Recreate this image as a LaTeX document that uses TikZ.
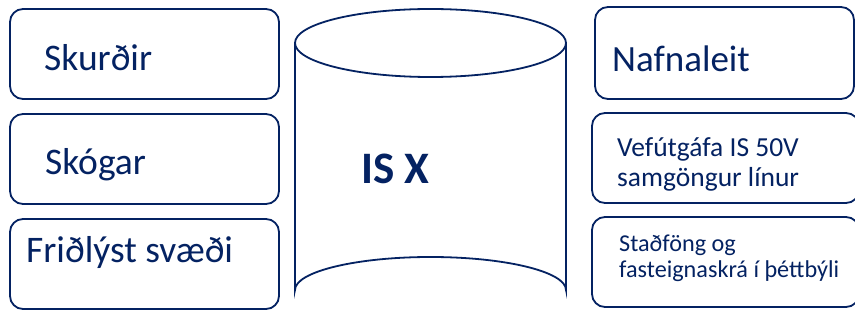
\documentclass[tikz,border=0pt]{standalone}
\usepackage{fontspec}
\setmainfont{Carlito}
\definecolor{navy}{RGB}{4,34,98}
\begin{document}
\begin{tikzpicture}[x=1pt,y=-1pt,
  box/.style={draw=navy,line width=1.8pt,rounded corners=13pt},
  lbl/.style={anchor=base west,inner sep=0pt,text=navy},
  cyl/.style={draw=navy,line width=1.8pt}]
\useasboundingbox (0,0) rectangle (855,320);
\clip (0,0) rectangle (855,320);
\fill[white] (0,0) rectangle (855,320);
% left boxes
\draw[box] (10,9) rectangle (279,99) coordinate (l1);
\draw[box] (10,114) rectangle (279,204) coordinate (l2);
\draw[box] (10,219) rectangle (279,309) coordinate (l3);
\node[lbl,font=\fontsize{37.5}{40}\selectfont] (skurdir) at (44,71) {Skurðir};
\node[lbl,font=\fontsize{37.5}{40}\selectfont] (skogar) at (45,175) {Skógar};
\node[lbl,font=\fontsize{37.5}{40}\selectfont] (fridlyst) at (26,263) {Friðlýst svæði};
% cylinder
\draw[cyl,fill=white] (295,43) -- (295,290) arc[start angle=180,end angle=360,x radius=135.5,y radius=33] -- (566,43);
\draw[cyl] (430.5,43) ellipse[x radius=135.5,y radius=34];
\node[lbl,font=\fontsize{45}{50}\selectfont\bfseries] (isx) at (361,184) {IS X};
% right boxes
\draw[box] (595,7) rectangle (854,99) coordinate (r1);
\draw[box] (592,113) rectangle (859,203) coordinate (r2);
\draw[box] (592,217) rectangle (859,307) coordinate (r3);
\node[lbl,font=\fontsize{37}{40}\selectfont] (nafn) at (612,72) {Nafnaleit};
\node[lbl,font=\fontsize{27.5}{30}\selectfont] (vef1) at (617,157) {Vefútgáfa IS 50V};
\node[lbl,font=\fontsize{27.5}{30}\selectfont] (vef2) at (617,187) {samgöngur línur};
\node[lbl,font=\fontsize{24.2}{26}\selectfont] (sta1) at (619,252) {Staðföng og};
\node[lbl,font=\fontsize{24.2}{26}\selectfont] (sta2) at (619,278) {fasteignaskrá í þéttbýli};
\end{tikzpicture}
\end{document}
